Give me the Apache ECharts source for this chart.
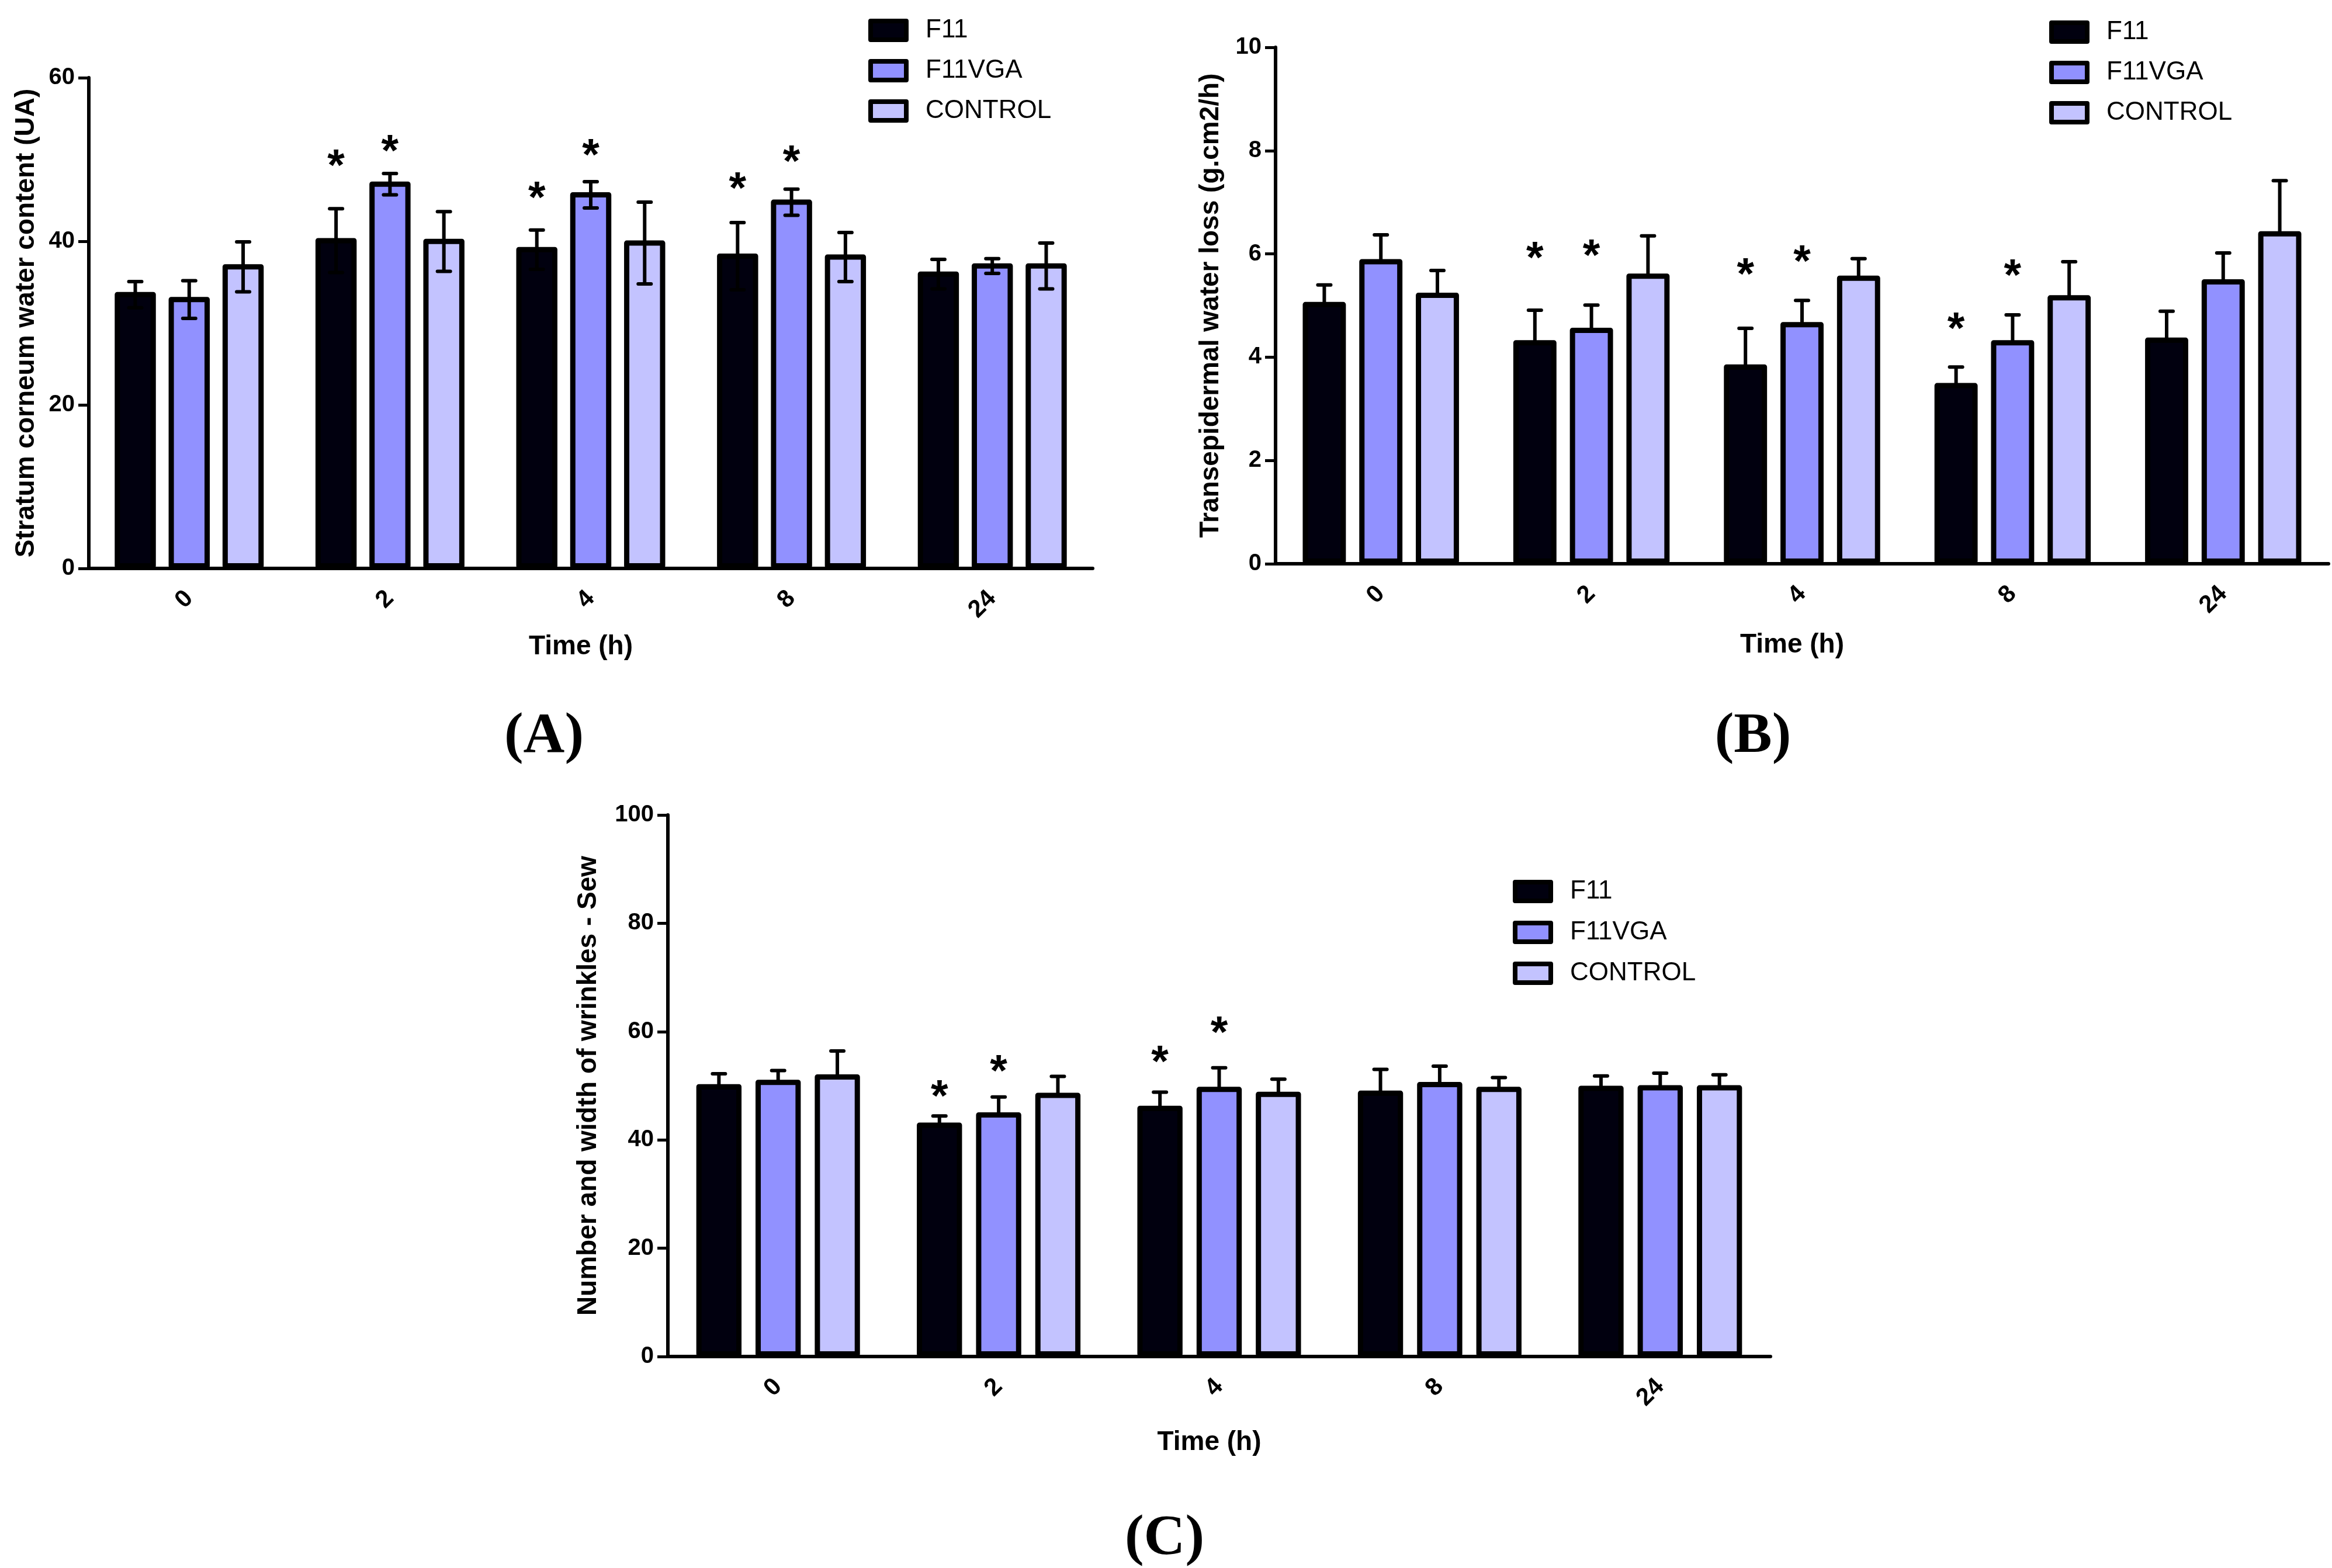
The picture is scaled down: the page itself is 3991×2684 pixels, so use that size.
<!DOCTYPE html>
<html>
<head>
<meta charset="utf-8">
<script src="https://cdn.jsdelivr.net/npm/echarts@6/dist/echarts.min.js"></script>
<style>
html,body{margin:0;padding:0;background:#fff;}
#chart{width:3991px;height:2684px;}
</style>
</head>
<body>
<div id="chart"></div>
<script>
// ---------- data ----------
const categories = ['0', '2', '4', '8', '24'];
const groups = ['F11', 'F11VGA', 'CONTROL'];

// Panel A: Stratum corneum water content (UA)
const waterF11      = [33.8, 40.4, 39.3, 38.5, 36.3];
const waterF11VGA   = [33.2, 47.3, 46.0, 45.1, 37.3];
const waterControl  = [37.2, 40.3, 40.1, 38.4, 37.3];
const waterErrF11     = [1.6, 3.9, 2.4, 4.1, 1.8];
const waterErrF11VGA  = [2.3, 1.3, 1.6, 1.6, 0.9];
const waterErrControl = [3.05, 3.65, 5.0, 3.0, 2.8];
// significance marks: [category index, group index, y position]
const waterStars = [[1,0,50.0],[1,1,51.8],[2,0,46.1],[2,1,51.3],[3,0,47.2],[3,1,50.5]];

// Panel B: Transepidermal water loss (g.cm2/h)
const teweF11      = [5.07, 4.33, 3.86, 3.50, 4.38];
const teweF11VGA   = [5.90, 4.57, 4.68, 4.33, 5.51];
const teweControl  = [5.25, 5.62, 5.58, 5.20, 6.44];
const teweErrF11     = [0.38, 0.63, 0.75, 0.36, 0.56];
const teweErrF11VGA  = [0.52, 0.49, 0.47, 0.54, 0.56];
const teweErrControl = [0.48, 0.78, 0.38, 0.70, 1.03];
const teweStars = [[1,0,6.04],[1,1,6.09],[2,0,5.72],[2,1,5.97],[3,0,4.67],[3,1,5.70]];

// Panel C: Number and width of wrinkles - Sew
const sewF11      = [50.3, 43.2, 46.3, 49.1, 50.0];
const sewF11VGA   = [51.1, 45.1, 49.8, 50.7, 50.1];
const sewControl  = [52.1, 48.7, 48.9, 49.8, 50.1];
const sewErrF11     = [2.4, 1.7, 3.0, 4.4, 2.3];
const sewErrF11VGA  = [2.2, 3.3, 4.0, 3.4, 2.7];
const sewErrControl = [4.8, 3.5, 2.8, 2.2, 2.4];
const sewStars = [[1,0,49.2],[1,1,53.8],[2,0,55.6],[2,1,60.9]];

const yTicksA = {min: 0, max: 60, interval: 20};
const yTicksB = {min: 0, max: 10, interval: 2};
const yTicksC = {min: 0, max: 100, interval: 20};

// ---------- styling ----------
const FONT = "'Liberation Sans', Arial, Helvetica, sans-serif";
const SERIF = "'Liberation Serif', 'Times New Roman', serif";
const COLORS = ['#01000f', '#9191ff', '#c3c3ff'];
const BAR_W = 0.205, BAR_GAP = 0.31, BORDER = 9;
const OFFSET = BAR_W * (1 + BAR_GAP); // bar centre offset as fraction of band

const panels = [
  {
    grid: {left: 152, top: 133, width: 1718, height: 840},
    yName: 'Stratum corneum water content (UA)', yGap: 84, xGap: 111,
    yTicks: yTicksA,
    means: [waterF11, waterF11VGA, waterControl],
    errs: [waterErrF11, waterErrF11VGA, waterErrControl],
    twoSided: true, stars: waterStars,
    legend: {left: 1486, top: 30, itemGap: 25}
  },
  {
    grid: {left: 2183, top: 81, width: 1802, height: 884},
    yName: 'Transepidermal water loss (g.cm2/h)', yGap: 88, xGap: 116,
    yTicks: yTicksB,
    means: [teweF11, teweF11VGA, teweControl],
    errs: [teweErrF11, teweErrF11VGA, teweErrControl],
    twoSided: false, stars: teweStars,
    legend: {left: 3507, top: 33, itemGap: 25}
  },
  {
    grid: {left: 1143, top: 1395, width: 1887, height: 927},
    yName: 'Number and width of wrinkles - Sew', yGap: 113, xGap: 124,
    yTicks: yTicksC,
    means: [sewF11, sewF11VGA, sewControl],
    errs: [sewErrF11, sewErrF11VGA, sewErrControl],
    twoSided: false, stars: sewStars,
    legend: {left: 2589, top: 1504, itemGap: 26}
  }
];

const grids = [], xAxes = [], yAxes = [], series = [], legends = [];

panels.forEach((p, pi) => {
  grids.push(Object.assign({outerBoundsMode: 'none', containLabel: false}, p.grid));
  xAxes.push({
    type: 'category', gridIndex: pi, data: categories,
    axisLine: {lineStyle: {color: '#000', width: 6}},
    axisTick: {alignWithLabel: true, length: 12, lineStyle: {color: '#000', width: 5}},
    axisLabel: {rotate: 45, fontSize: 42, fontWeight: 'bold', fontFamily: FONT, color: '#000', margin: 45, interval: 0},
    splitLine: {show: false},
    name: 'Time (h)', nameLocation: 'middle', nameGap: p.xGap,
    nameTextStyle: {fontSize: 46, fontWeight: 'bold', fontFamily: FONT, color: '#000', padding: [0, 34, 0, 0]}
  });
  yAxes.push({
    type: 'value', gridIndex: pi,
    min: p.yTicks.min, max: p.yTicks.max, interval: p.yTicks.interval,
    axisLine: {show: true, lineStyle: {color: '#000', width: 6}},
    axisTick: {show: true, length: 18, lineStyle: {color: '#000', width: 5}},
    axisLabel: {fontSize: 40, fontWeight: 'bold', fontFamily: FONT, color: '#000', margin: 24},
    splitLine: {show: false},
    name: p.yName, nameLocation: 'middle', nameGap: p.yGap,
    nameTextStyle: {fontSize: 46, fontWeight: 'bold', fontFamily: FONT, color: '#000'}
  });
  groups.forEach((g, gi) => {
    series.push({
      type: 'bar', name: g, xAxisIndex: pi, yAxisIndex: pi,
      data: p.means[gi], barWidth: (BAR_W * 100) + '%', barGap: (BAR_GAP * 100) + '%',
      itemStyle: {color: COLORS[gi], borderColor: '#000', borderWidth: BORDER, borderJoin: 'round'},
      emphasis: {disabled: true}, z: 2
    });
  });
  const rows = [];
  groups.forEach((g, gi) => {
    p.means[gi].forEach((m, ci) => rows.push([ci, gi, m, p.errs[gi][ci]]));
  });
  const twoSided = p.twoSided;
  series.push({
    type: 'custom', name: 'error' + pi, xAxisIndex: pi, yAxisIndex: pi,
    data: rows, encode: {x: 0, y: 2}, silent: true, z: 5,
    renderItem: function (params, api) {
      const c = api.value(0), gi = api.value(1), m = api.value(2), e = api.value(3);
      const band = api.size([1, 0])[0];
      const x = api.coord([c, m])[0] + (gi - 1) * band * OFFSET;
      // error bar is anchored on the centre line of the bar's top border
      const yMean = api.coord([c, m])[1] + BORDER / 2;
      const len = api.size([0, e])[1];
      const yTop = yMean - len;
      const yBot = twoSided ? yMean + len : yMean;
      const cap = 11;
      const st = {stroke: '#000', lineWidth: 6, lineCap: 'round'};
      const children = [
        {type: 'line', shape: {x1: x, y1: yTop, x2: x, y2: yBot}, style: {stroke: '#000', lineWidth: 6}},
        {type: 'line', shape: {x1: x - cap, y1: yTop, x2: x + cap, y2: yTop}, style: st}
      ];
      if (twoSided) children.push({type: 'line', shape: {x1: x - cap, y1: yBot, x2: x + cap, y2: yBot}, style: st});
      return {type: 'group', children: children};
    }
  });
  series.push({
    type: 'custom', name: 'stars' + pi, xAxisIndex: pi, yAxisIndex: pi,
    data: p.stars, encode: {x: 0, y: 2}, silent: true, z: 6,
    renderItem: function (params, api) {
      const c = api.value(0), gi = api.value(1), v = api.value(2);
      const band = api.size([1, 0])[0];
      const pt = api.coord([c, v]);
      return {
        type: 'text', x: pt[0] + (gi - 1) * band * OFFSET, y: pt[1] + 14,
        style: {text: '*', font: 'bold 76px ' + FONT, align: 'center', verticalAlign: 'middle', fill: '#000'}
      };
    }
  });
  legends.push({
    data: groups, orient: 'vertical', left: p.legend.left, top: p.legend.top,
    padding: 0, itemGap: p.legend.itemGap, itemWidth: 61, itemHeight: 32, icon: 'rect',
    itemStyle: {borderWidth: 8, borderColor: '#000', borderJoin: 'round'},
    textStyle: {fontSize: 44, fontFamily: FONT, color: '#000', lineHeight: 44, padding: [0, 0, 0, 28]},
    selectedMode: false
  });
});

const chart = echarts.init(document.getElementById('chart'), null, {renderer: 'canvas'});
chart.setOption({
  animation: false,
  backgroundColor: '#fff',
  grid: grids, xAxis: xAxes, yAxis: yAxes, series: series, legend: legends,
  graphic: [
    {type: 'text', x: 931, y: 1262, style: {text: '(A)', font: 'bold 98px ' + SERIF, align: 'center', verticalAlign: 'middle', fill: '#000'}},
    {type: 'text', x: 3000, y: 1262, style: {text: '(B)', font: 'bold 98px ' + SERIF, align: 'center', verticalAlign: 'middle', fill: '#000'}},
    {type: 'text', x: 1993, y: 2635, style: {text: '(C)', font: 'bold 98px ' + SERIF, align: 'center', verticalAlign: 'middle', fill: '#000'}}
  ]
});
</script>
</body>
</html>
